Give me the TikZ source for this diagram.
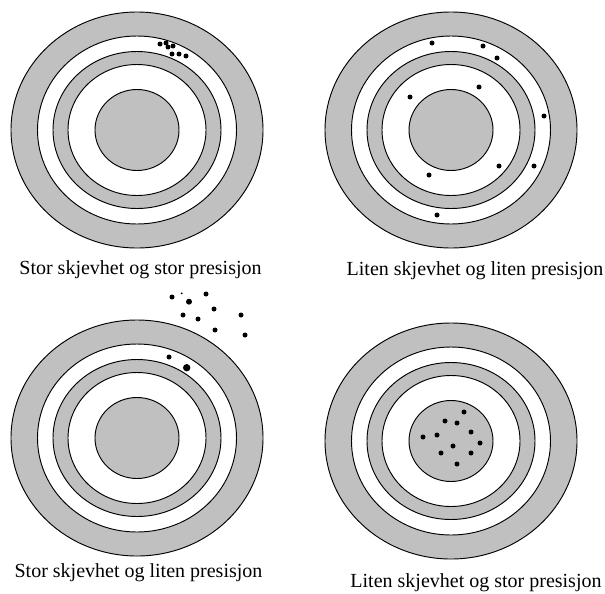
\documentclass[tikz,border=0pt]{standalone}
\usepackage{fontspec}
\setmainfont{Liberation Serif}
\definecolor{ringgray}{RGB}{192,192,192}
\tikzset{
  ring/.style={
    draw=black,
    line width=0.8pt
  },
  ring-gray/.style={ring, fill=ringgray},
  ring-white/.style={ring, fill=white},
  hit/.style={fill=black},
  caption/.style={
    font=\fontsize{17}{20}\selectfont,
    inner sep=0pt
  }
}
\newcommand{\skyteskive}[1]{%
  \draw[ring-gray]  (#1) ellipse [x radius=126, y radius=118];
  \draw[ring-white] (#1) ellipse [x radius=99.5, y radius=94];
  \draw[ring-gray]  (#1) ellipse [x radius=84, y radius=78.5];
  \draw[ring-white] (#1) ellipse [x radius=69, y radius=65.5];
  \draw[ring-gray]  (#1) ellipse [x radius=42, y radius=40.5];
}

\begin{document}
\begin{tikzpicture}[x=0.85pt, y=-0.85pt]
  \useasboundingbox (0,0) rectangle (605,593);
  % the four targets
  \skyteskive{137,130}
  \skyteskive{451,130}
  \skyteskive{137,438}
  \skyteskive{451,441}
  % stor skjevhet, stor presisjon
  \foreach \x/\y in {160/44, 166/43, 168/47, 173/46, 172/54, 179/54, 186/56}
    \fill[hit] (\x,\y) circle [radius=2.5];
  % liten skjevhet, liten presisjon
  \foreach \x/\y in {432/43, 483/46, 497/58, 479/87, 410/97, 544/116,
                     499/166, 534/166, 429/175, 437/215}
    \fill[hit] (\x,\y) circle [radius=2.5];
  % stor skjevhet, liten presisjon
  \foreach \x/\y in {172/297, 206/294, 214/309, 183/315, 198/319, 241/315,
                     215/330, 245/335, 169/357}
    \fill[hit] (\x,\y) circle [radius=2.5];
  \fill[hit] (181.7,293.3) circle [radius=1];
  \fill[hit] (189,301.7) circle [radius=3];
  \fill[hit] (186.7,367.7) circle [radius=3.7];
  % liten skjevhet, stor presisjon
  \foreach \x/\y in {464/412, 445/421, 457/423, 471/432, 423/437, 437/435,
                     453/446, 480/443, 441/453, 471/453, 457/464}
    \fill[hit] (\x,\y) circle [radius=2.5];
  % captions
  \node[caption] (lblA) at (140.5,269.5) {Stor skjevhet og stor presisjon};
  \node[caption] (lblB) at (475,270.5) {Liten skjevhet og liten presisjon};
  \node[caption] (lblC) at (138.5,573) {Stor skjevhet og liten presisjon};
  \node[caption] (lblD) at (476,583) {Liten skjevhet og stor presisjon};
\end{tikzpicture}
\end{document}
